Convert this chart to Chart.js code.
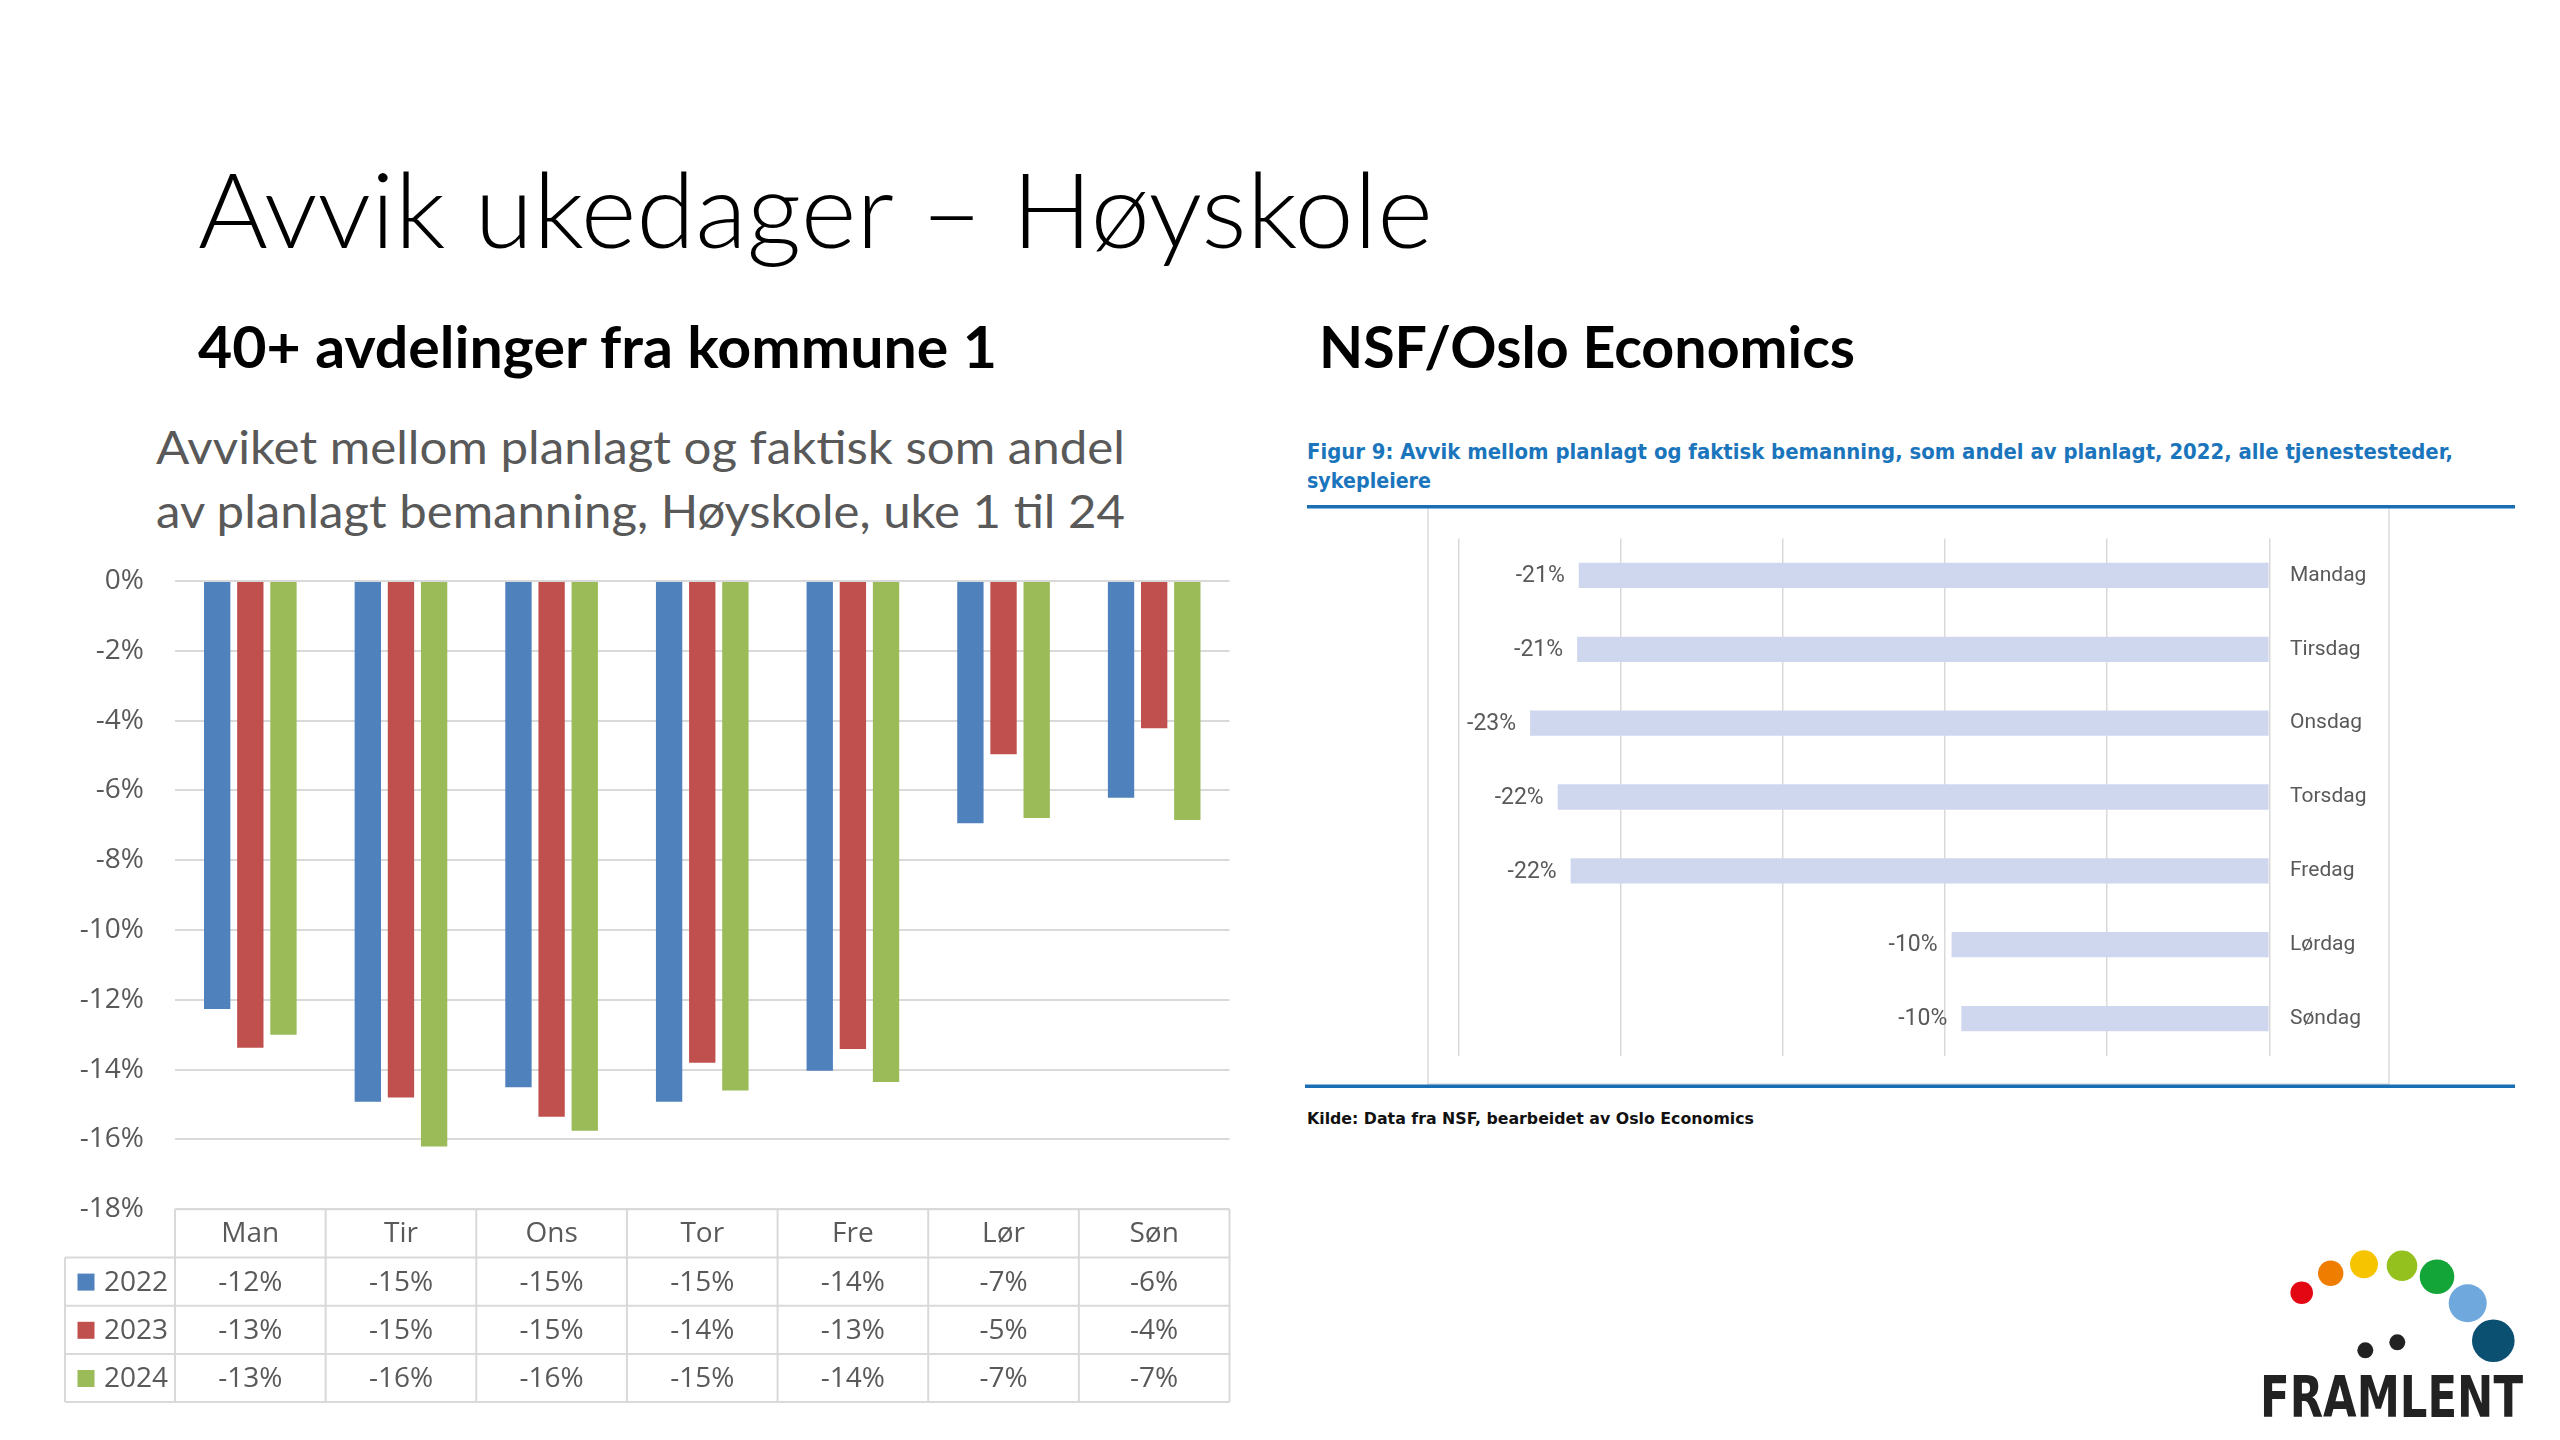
<!DOCTYPE html>
<html>
<head>
<meta charset="utf-8">
<script src="https://cdn.jsdelivr.net/npm/chart.js@4.4.1/dist/chart.umd.min.js"></script>
<style>
html,body{margin:0;padding:0;background:#fff;}
#page{position:relative;width:2560px;height:1440px;overflow:hidden;background:#fff;}
#deco{position:absolute;left:0;top:0;}
#leftBox{position:absolute;left:40px;top:555px;width:1210px;height:870px;}
#rightBox{position:absolute;left:1428px;top:507px;width:961px;height:577px;}
</style>
</head>
<body>
<div id="page">
<svg id="deco" width="2560" height="1440" viewBox="0 0 2560 1440" xmlns="http://www.w3.org/2000/svg">
  <text x="198" y="248.3" font-family="Lato" font-weight="300" font-size="105.5" fill="#000" textLength="1235" lengthAdjust="spacingAndGlyphs">Avvik ukedager – Høyskole</text>
  <text x="198" y="367.5" font-family="Lato" font-weight="700" font-size="57" fill="#000" textLength="799" lengthAdjust="spacingAndGlyphs">40+ avdelinger fra kommune 1</text>
  <text x="1319" y="367.5" font-family="Lato" font-weight="700" font-size="57" fill="#000" textLength="536" lengthAdjust="spacingAndGlyphs">NSF/Oslo Economics</text>
  <text x="156" y="464.3" font-family="Lato" font-weight="400" font-size="45.6" fill="#595959" textLength="969" lengthAdjust="spacingAndGlyphs">Avviket mellom planlagt og faktisk som andel</text>
  <text x="156" y="528.3" font-family="Lato" font-weight="400" font-size="45.6" fill="#595959" textLength="969" lengthAdjust="spacingAndGlyphs">av planlagt bemanning, Høyskole, uke 1 til 24</text>

  <text x="1307" y="459.3" font-family="DejaVu Sans" font-weight="700" font-size="22" fill="#1a75bc" textLength="1146" lengthAdjust="spacingAndGlyphs">Figur 9: Avvik mellom planlagt og faktisk bemanning, som andel av planlagt, 2022, alle tjenestesteder,</text>
  <text x="1307" y="488.3" font-family="DejaVu Sans" font-weight="700" font-size="22" fill="#1a75bc" textLength="124" lengthAdjust="spacingAndGlyphs">sykepleiere</text>
  <rect x="1428" y="507" width="961" height="577" fill="none" stroke="#dcdcdc" stroke-width="1.5"/>
  <rect x="1307" y="505" width="1208" height="3.5" fill="#1a6fb4"/>
  <rect x="1305" y="1084.5" width="1210" height="3.5" fill="#1a6fb4"/>
  <text x="1307" y="1124" font-family="DejaVu Sans" font-weight="700" font-size="16" fill="#111" textLength="447" lengthAdjust="spacingAndGlyphs">Kilde: Data fra NSF, bearbeidet av Oslo Economics</text>

  <circle cx="2301.7" cy="1292.7" r="11.3" fill="#e30613"/>
  <circle cx="2330.7" cy="1273.3" r="12.7" fill="#ef7d00"/>
  <circle cx="2364" cy="1264.3" r="14" fill="#f6c400"/>
  <circle cx="2402" cy="1265.7" r="15.3" fill="#95c11f"/>
  <circle cx="2437" cy="1276.7" r="17.3" fill="#13a538"/>
  <circle cx="2467.7" cy="1303.3" r="19" fill="#6fa8dc"/>
  <circle cx="2493.3" cy="1340.7" r="21.3" fill="#0b4f71"/>
  <circle cx="2365.3" cy="1350.3" r="8" fill="#222"/>
  <circle cx="2397.3" cy="1342.3" r="8" fill="#222"/>
  <text x="2260" y="1417" font-family="DejaVu Sans" font-weight="700" font-size="57" fill="#222" textLength="263" lengthAdjust="spacingAndGlyphs">FRAMLENT</text>
</svg>
<div id="leftBox"><canvas id="left"></canvas></div>
<div id="rightBox"><canvas id="right"></canvas></div>
</div>
<script>
// ---- Data: left chart (40+ avdelinger fra kommune 1) ----
const days = ['Man', 'Tir', 'Ons', 'Tor', 'Fre', 'Lør', 'Søn'];
const years = ['2022', '2023', '2024'];
const v2022 = [-12.26, -14.92, -14.5, -14.92, -14.03, -6.94, -6.21];
const v2023 = [-13.37, -14.8, -15.35, -13.8, -13.41, -4.96, -4.22];
const v2024 = [-13.0, -16.2, -15.75, -14.6, -14.35, -6.79, -6.85];
const yearColors = ['#4F81BD', '#C0504D', '#9BBB59'];

// ---- Data: right chart (NSF/Oslo Economics) ----
const nsfDays = ['Mandag', 'Tirsdag', 'Onsdag', 'Torsdag', 'Fredag', 'Lørdag', 'Søndag'];
const nsfValues = [-21.3, -21.35, -22.8, -21.95, -21.55, -9.8, -9.5];

const pct = v => '-' + Math.round(Math.abs(v)) + '%';
const series = [v2022, v2023, v2024];

const tablePlugin = {
  id: 'dataTable',
  afterDraw(chart) {
    const ctx = chart.ctx;
    const {left, right, bottom} = chart.chartArea;
    const xs = chart.scales.x;
    const n = days.length;
    const colW = (right - left) / n;
    const rowH = 48.2;
    const legLeft = left - 110;
    ctx.save();
    ctx.strokeStyle = '#d9d9d9';
    ctx.lineWidth = 2;
    ctx.beginPath();
    ctx.moveTo(left, bottom); ctx.lineTo(right, bottom);
    for (let k = 1; k <= 4; k++) {
      ctx.moveTo(legLeft, bottom + rowH * k); ctx.lineTo(right, bottom + rowH * k);
    }
    for (let i = 0; i <= n; i++) {
      const x = left + i * colW;
      ctx.moveTo(x, bottom); ctx.lineTo(x, bottom + rowH * 4);
    }
    ctx.moveTo(legLeft, bottom + rowH); ctx.lineTo(legLeft, bottom + rowH * 4);
    ctx.stroke();

    ctx.fillStyle = '#595959';
    ctx.font = '28px "Open Sans"';
    ctx.textAlign = 'center';
    ctx.textBaseline = 'middle';
    days.forEach((d, i) => ctx.fillText(d, xs.getPixelForValue(i), bottom + rowH / 2 + 1));
    series.forEach((s, r) => {
      const cy = bottom + rowH * (r + 1) + rowH / 2 + 1;
      s.forEach((v, i) => {
        ctx.fillStyle = '#595959';
        ctx.textAlign = 'center';
        ctx.fillText(pct(v), xs.getPixelForValue(i), cy);
      });
      ctx.fillStyle = yearColors[r];
      ctx.fillRect(legLeft + 12.5, cy - 9, 17, 17);
      ctx.fillStyle = '#595959';
      ctx.textAlign = 'left';
      ctx.fillText(years[r], legLeft + 39, cy);
    });
    ctx.restore();
  }
};

new Chart(document.getElementById('left'), {
  type: 'bar',
  data: {
    labels: days,
    datasets: series.map((s, i) => ({label: years[i], data: s, backgroundColor: yearColors[i]}))
  },
  options: {
    responsive: true,
    maintainAspectRatio: false,
    animation: false,
    datasets: {bar: {barPercentage: 0.795, categoryPercentage: 0.66, borderWidth: 0}},
    layout: {padding: {left: 0, right: 20.5, top: 26, bottom: 215.7}},
    plugins: {legend: {display: false}, tooltip: {enabled: false}},
    scales: {
      x: {display: false},
      y: {
        min: -18, max: 0,
        ticks: {stepSize: 2, padding: 31, color: '#595959', font: {family: 'Open Sans', size: 28}, callback: v => v + '%'},
        grid: {color: '#d9d9d9', lineWidth: 2, drawTicks: false},
        border: {display: false},
        afterFit: s => { s.width = 135; s.paddingTop = 0; s.paddingBottom = 0; }
      }
    }
  },
  plugins: [tablePlugin]
});

const valueLabels = {
  id: 'valueLabels',
  afterDatasetsDraw(chart) {
    const ctx = chart.ctx;
    const meta = chart.getDatasetMeta(0);
    ctx.save();
    ctx.fillStyle = '#595959';
    ctx.font = '23px Roboto';
    ctx.textAlign = 'right';
    ctx.textBaseline = 'middle';
    meta.data.forEach((bar, i) => {
      ctx.fillText(pct(nsfValues[i]), bar.x - 14, bar.y + 1);
    });
    ctx.restore();
  }
};

new Chart(document.getElementById('right'), {
  type: 'bar',
  data: {
    labels: nsfDays,
    datasets: [{data: nsfValues, backgroundColor: '#cfd7ee', borderWidth: 0, barPercentage: 0.342, categoryPercentage: 1}]
  },
  options: {
    indexAxis: 'y',
    responsive: true,
    maintainAspectRatio: false,
    animation: false,
    layout: {padding: {left: 30.8, right: 0, top: 31.5, bottom: 28.5}},
    plugins: {legend: {display: false}, tooltip: {enabled: false}},
    scales: {
      x: {
        min: -25, max: 0,
        ticks: {display: false, stepSize: 5},
        grid: {color: '#d9d9d9', lineWidth: 1.5, drawTicks: false},
        border: {display: false},
        afterFit: s => { s.height = 0; s.paddingLeft = 0; s.paddingRight = 0; }
      },
      y: {
        position: 'right',
        ticks: {padding: 20.7, color: '#595959', font: {family: 'Roboto', size: 21}},
        grid: {display: false, drawTicks: false},
        border: {display: false},
        afterFit: s => { s.width = 119.7; s.paddingTop = 0; s.paddingBottom = 0; }
      }
    }
  },
  plugins: [valueLabels]
});
</script>
</body>
</html>
